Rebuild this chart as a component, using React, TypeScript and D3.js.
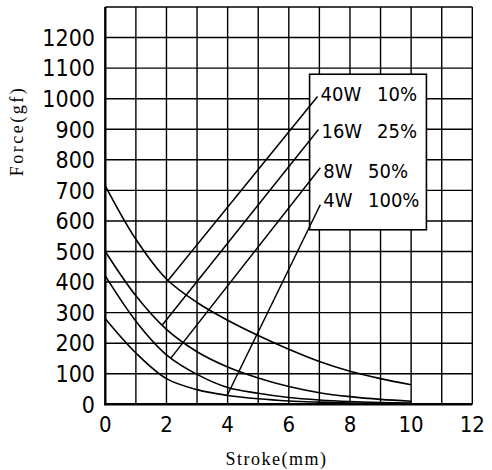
import React, { useEffect, useRef } from 'react';
import * as d3 from 'd3';

const strokeMm = [0, 1, 2, 3, 4, 5, 6, 7, 8, 9, 10];

// force curves (gf) for each power / duty rating
const force40W = [715, 540, 410, 333, 275, 225, 180, 140, 108, 84, 64];
const force16W = [500, 355, 245, 172, 122, 86, 58, 38, 25, 16, 10];
const force8W = [420, 272, 162, 98, 55, 36, 22, 14, 9, 6, 4];
const force4W = [280, 168, 84, 48, 29, 18, 11, 7, 4, 3, 2];

const seriesNames = ['40W', '16W', '8W', '4W'];
const dutyCycles = ['10%', '25%', '50%', '100%'];

// leader lines: where the label end sits and where it touches its curve
const leaderFrom: [number, number][] = [[6.94, 1007], [6.97, 899], [7.03, 774], [7.03, 653]];
const leaderTo: [number, number][] = [[2.05, 405], [1.85, 258], [2.15, 152], [4.0, 32]];
const labelRows = [994, 870, 742, 646];

const xTicks = [0, 2, 4, 6, 8, 10, 12];
const yTicks = [0, 100, 200, 300, 400, 500, 600, 700, 800, 900, 1000, 1100, 1200];

const numFont = '"DejaVu Sans Condensed", "DejaVu Sans", sans-serif';
const titleFont = '"Liberation Serif", "DejaVu Serif", serif';

export default function App() {
  const svgRef = useRef<SVGSVGElement>(null);

  useEffect(() => {
    if (!svgRef.current) return;
    const svg = d3.select(svgRef.current);
    svg.selectAll('*').remove();

    const x = d3.scaleLinear().domain([0, 12]).range([105.3, 472.3]);
    const y = d3.scaleLinear().domain([0, 1300]).range([404.3, 7]);

    svg.append('rect').attr('width', 492).attr('height', 470).attr('fill', '#fff');

    const g = svg.append('g');

    // grid
    d3.range(1, 13).forEach((v) => {
      g.append('line')
        .attr('x1', x(v)).attr('x2', x(v))
        .attr('y1', y(0)).attr('y2', y(1300))
        .attr('stroke', '#000').attr('stroke-width', 1.4);
    });
    d3.range(1, 14).forEach((v) => {
      g.append('line')
        .attr('x1', x(0)).attr('x2', x(12))
        .attr('y1', y(v * 100)).attr('y2', y(v * 100))
        .attr('stroke', '#000').attr('stroke-width', 1.4);
    });

    // main axes
    g.append('line')
      .attr('x1', x(0)).attr('x2', x(0)).attr('y1', y(0) + 1).attr('y2', y(1300))
      .attr('stroke', '#000').attr('stroke-width', 2.4);
    g.append('line')
      .attr('x1', x(0) - 1).attr('x2', x(12)).attr('y1', y(0)).attr('y2', y(0))
      .attr('stroke', '#000').attr('stroke-width', 2.4);

    // legend box (covers grid)
    g.append('rect')
      .attr('x', x(6.68)).attr('y', y(1080))
      .attr('width', x(10.5) - x(6.68)).attr('height', y(571) - y(1080))
      .attr('fill', '#fff').attr('stroke', '#000').attr('stroke-width', 1.6);

    // curves
    const line = d3
      .line<number>()
      .x((_, i) => x(strokeMm[i]))
      .y((d) => y(d))
      .curve(d3.curveCatmullRom.alpha(0.5));

    [force40W, force16W, force8W, force4W].forEach((vals) => {
      g.append('path')
        .attr('d', line(vals))
        .attr('fill', 'none')
        .attr('stroke', '#000')
        .attr('stroke-width', 1.6);
    });

    // leaders + labels
    seriesNames.forEach((name, i) => {
      g.append('line')
        .attr('x1', x(leaderFrom[i][0])).attr('y1', y(leaderFrom[i][1]))
        .attr('x2', x(leaderTo[i][0])).attr('y2', y(leaderTo[i][1]))
        .attr('stroke', '#000').attr('stroke-width', 1.5);

      g.append('text')
        .attr('x', x(leaderFrom[i][0]) + 3)
        .attr('y', y(labelRows[i]))
        .style('font-family', numFont)
        .style('font-size', '20px')
        .style('fill', '#000')
        .text(name);

      g.append('text')
        .attr('x', i < 2 ? 377 : 368)
        .attr('y', y(labelRows[i]))
        .style('font-family', numFont)
        .style('font-size', '20px')
        .style('fill', '#000')
        .text(dutyCycles[i]);
    });

    // tick labels
    yTicks.forEach((v) => {
      g.append('text')
        .attr('x', 95)
        .attr('y', y(v))
        .attr('dy', '0.36em')
        .attr('text-anchor', 'end')
        .style('font-family', numFont)
        .style('font-size', '23px')
        .style('fill', '#000')
        .text(v);
    });
    xTicks.forEach((v) => {
      g.append('text')
        .attr('x', x(v))
        .attr('y', 432)
        .attr('text-anchor', 'middle')
        .style('font-family', numFont)
        .style('font-size', '22px')
        .style('fill', '#000')
        .text(v);
    });

    // axis titles
    g.append('text')
      .attr('x', 276.5)
      .attr('y', 465)
      .attr('text-anchor', 'middle')
      .style('font-family', titleFont)
      .style('font-size', '18px')
      .style('letter-spacing', '1.5px')
      .style('fill', '#000')
      .text('Stroke(mm)');

    g.append('text')
      .attr('transform', 'translate(23,131) rotate(-90)')
      .attr('text-anchor', 'middle')
      .style('font-family', titleFont)
      .style('font-size', '18px')
      .style('letter-spacing', '2.5px')
      .style('fill', '#000')
      .text('Force(gf)');
  }, []);

  return (
    <svg
      ref={svgRef}
      width={492}
      height={470}
      style={{ position: 'absolute', left: 0, top: 0, display: 'block' }}
    ></svg>
  );
}
